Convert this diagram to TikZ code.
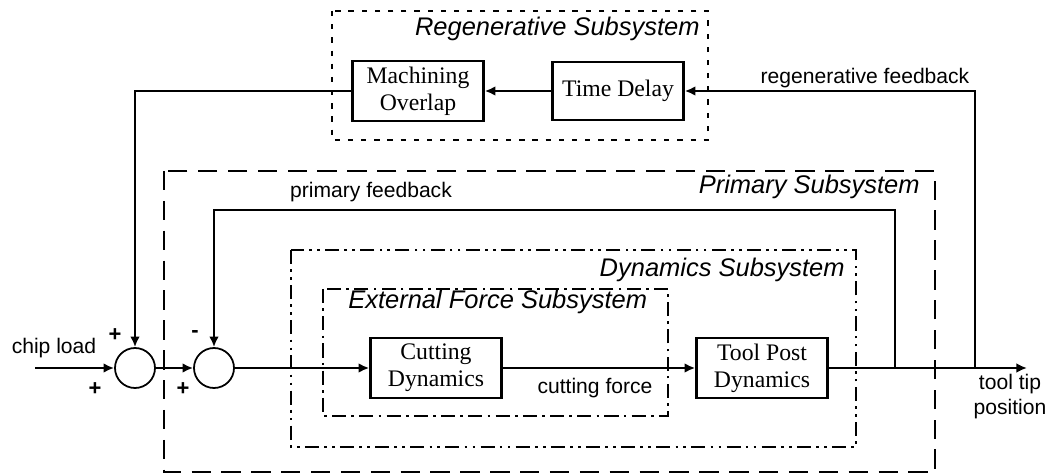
\documentclass[tikz,border=0pt]{standalone}
\usepackage{fontspec}
\setmainfont{Liberation Serif}
\setsansfont{Liberation Sans}
\usetikzlibrary{arrows.meta,calc,positioning}

\tikzset{
  blk/.style={draw,line width=1.5pt,minimum width=2.62cm,minimum height=1.2cm,
    align=center,inner sep=1pt,font=\fontsize{13.5}{15.5}\selectfont},
  sumnode/.style={draw,circle,line width=1pt,minimum size=0.8cm,inner sep=0pt},
  wire/.style={line width=1.5pt},
  conn/.style={wire,-{Latex[length=6pt,width=5.5pt]}},
  lbl/.style={font=\sffamily\fontsize{12}{14.2}\selectfont,align=center,inner sep=0pt},
  sublbl/.style={font=\sffamily\itshape\fontsize{14.5}{16}\selectfont,inner sep=0pt},
  sgn/.style={font=\sffamily\bfseries\fontsize{12.5}{14}\selectfont,inner sep=0pt},
  % frames of the subsystems
  regenframe/.style={line width=0.9pt,dash pattern=on 3pt off 4.5pt},
  primframe/.style={line width=0.9pt,dash pattern=on 11pt off 6pt},
  dynframe/.style={line width=0.9pt,dash pattern=on 8pt off 3pt on 1.5pt off 3pt on 1.5pt off 3pt},
  extframe/.style={line width=0.9pt,dash pattern=on 8pt off 3pt on 1.5pt off 3pt},
}

\begin{document}
\begin{tikzpicture}[x=0.02cm,y=-0.02cm]
  \useasboundingbox (0,0) rectangle (1052,476);

  % subsystem frames
  \draw[regenframe] (332,11) rectangle (708,140);
  \draw[primframe] (164,171) rectangle (935,472);
  \draw[dynframe] (291,250) rectangle (856,447);
  \draw[extframe] (323,289) rectangle (668,416);
  \node[sublbl,anchor=east] (regenname) at (700,29) {Regenerative Subsystem};
  \node[sublbl,anchor=east] (primname) at (920,187) {Primary Subsystem};
  \node[sublbl,anchor=east] (dynname) at (845,270) {Dynamics Subsystem};
  \node[sublbl,anchor=west] (extname) at (348,302) {External Force Subsystem};

  % blocks and summing junctions
  \node[blk] (overlap) at (418,91) {Machining\\Overlap};
  \node[blk,minimum height=1.16cm] (delay) at (618,91) {Time Delay};
  \node[blk] (cutdyn) at (436,368) {Cutting\\Dynamics};
  \node[blk] (tooldyn) at (762,368) {Tool Post\\Dynamics};
  \node[sumnode] (sum1) at (135,368) {};
  \node[sumnode] (sum2) at (214,368) {};

  % branch points and ends
  \coordinate (chip) at (35,368);
  \coordinate (out) at (1027,368);
  \coordinate (pfb) at (895,368);
  \coordinate (pft) at (895,210);
  \coordinate (rfb) at (975,368);
  \coordinate (rft) at (975,91);

  % forward path
  \draw[conn] (chip) -- (sum1.west);
  \draw[conn] (sum1.east) -- (sum2.west);
  \draw[conn] (sum2.east) -- (cutdyn.west);
  \draw[conn] (cutdyn.east) -- (tooldyn.west);
  \draw[conn] (tooldyn.east) -- (out);

  % feedback loops
  \draw[conn] (pfb) -- (pft) -| (sum2.north);
  \draw[conn] (rfb) -- (rft) -- (delay.east);
  \draw[conn] (delay.west) -- (overlap.east);
  \draw[conn] (overlap.west) -| (sum1.north);

  % signal names
  \node[lbl] (chiplbl) at (54,348) {chip load};
  \node[lbl] (toollbl) at (1010,397) {tool tip\\position};
  \node[lbl] (cutlbl) at (595,388) {cutting force};
  \node[lbl] (pflbl) at (371,192) {primary feedback};
  \node[lbl] (rflbl) at (865,78) {regenerative feedback};

  % signs at the junctions
  \node[sgn] (s1a) at (115,335) {+};
  \node[sgn] (s1b) at (95,389) {+};
  \node[sgn] (s2a) at (195,334) {-};
  \node[sgn] (s2b) at (183,389) {+};
\end{tikzpicture}
\end{document}
